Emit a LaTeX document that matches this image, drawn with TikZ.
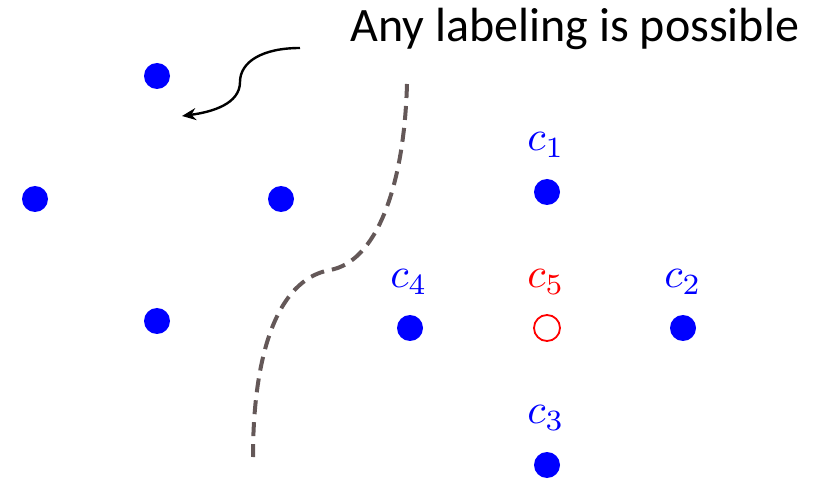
\documentclass[tikz,border=0pt]{standalone}
\usepackage{fontspec}
\newfontfamily\carlito{Carlito}
\usetikzlibrary{arrows.meta}
\definecolor{dashcol}{RGB}{100,88,88}
\begin{document}
\begin{tikzpicture}[x=1pt,y=-1pt,
  pt/.style={circle,fill=blue,inner sep=0pt,minimum size=26pt},
  openpt/.style={circle,draw=red,line width=1.8pt,fill=white,inner sep=0pt,minimum size=26pt},
  lab/.style={inner sep=0pt,scale=4.2},
  sep/.style={dashcol,line width=4pt,dash pattern=on 14pt off 8pt},
  callout/.style={black,line width=2.4pt,-{Stealth[length=14pt,width=12pt]}}]
\useasboundingbox (0,0) rectangle (828,481);
\node[anchor=base,inner sep=0pt,font=\carlito\fontsize{48}{56}\selectfont] (txt) at (575,42) {Any labeling is possible};
% left points
\node[pt] (p1) at (157,76) {};
\node[pt] (p2) at (35,199) {};
\node[pt] (p3) at (281,199) {};
\node[pt] (p4) at (157,321) {};
% right points
\node[pt] (c1) at (547,192) {};
\node[pt] (c4) at (410,328) {};
\node[openpt] (c5) at (547,328) {};
\node[pt] (c2) at (683,328) {};
\node[pt] (c3) at (547,465) {};
\node[lab,text=blue] (l1) at (546,145) {$c_1$};
\node[lab,text=blue] (l4) at (409,282) {$c_4$};
\node[lab,text=red] (l5) at (546,282) {$c_5$};
\node[lab,text=blue] (l2) at (683,282) {$c_2$};
\node[lab,text=blue] (l3) at (546,418) {$c_3$};
% arrow
\coordinate (as) at (300,48);
\coordinate (ae) at (182,116);
\draw[callout] (as) .. controls (262,48) and (240,62) .. (240,82) .. controls (240,104) and (212,112) .. (ae);
% separator
\coordinate (d1) at (407,84);
\coordinate (d2) at (330,270);
\coordinate (d3) at (253,457);
\draw[sep] (d1) .. controls (404,190) and (375,262) .. (d2) .. controls (275,280) and (253,360) .. (d3);
\end{tikzpicture}
\end{document}
